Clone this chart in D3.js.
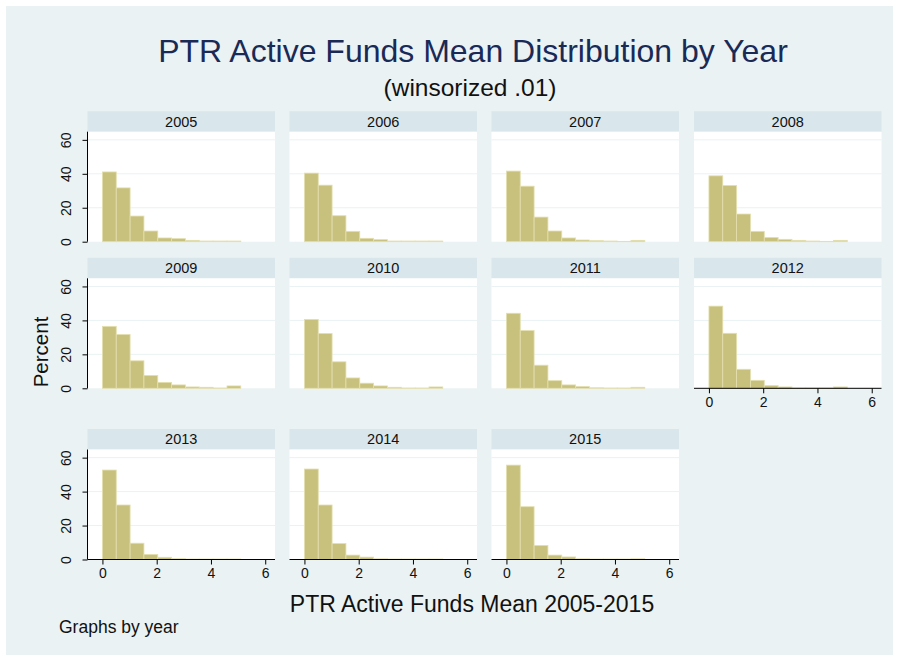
<!DOCTYPE html>
<html>
<head>
<meta charset="utf-8">
<script src="https://cdn.jsdelivr.net/npm/d3@7"></script>
<style>
  html, body { margin: 0; padding: 0; background: #ffffff; }
  svg { display: block; font-family: "Liberation Sans", Arial, sans-serif; }
</style>
</head>
<body>
<svg id="chart" width="899" height="660"></svg>
<script>
// ---------------- data ----------------
const years = ["2005","2006","2007","2008","2009","2010","2011","2012","2013","2014","2015"];
const binEdges = [0, 0.51, 1.02, 1.53, 2.04, 2.55, 3.06, 3.57, 4.08, 4.59, 5.1];
const pct2005 = [41.1, 31.7, 15.1, 6.3, 2.2, 1.8, 0.8, 0.4, 0.4, 0.4];
const pct2006 = [40.4, 33.3, 15.3, 6.1, 2.0, 1.2, 0.4, 0.4, 0.4, 0.4];
const pct2007 = [41.6, 32.7, 14.5, 6.3, 2.2, 1.0, 0.6, 0.4, 0.2, 0.8];
const pct2008 = [38.8, 33.1, 16.3, 6.1, 2.5, 1.4, 0.8, 0.4, 0.2, 0.8];
const pct2009 = [36.5, 31.7, 16.2, 7.6, 3.5, 2.0, 0.8, 0.6, 0.2, 1.4];
const pct2010 = [40.6, 32.3, 15.6, 6.1, 3.0, 1.4, 0.6, 0.2, 0.2, 0.8];
const pct2011 = [44.2, 34.0, 13.6, 4.5, 2.0, 1.0, 0.3, 0.2, 0.2, 0.6];
const pct2012 = [48.4, 32.4, 11.2, 4.7, 1.6, 0.8, 0.2, 0.2, 0.2, 0.8];
const pct2013 = [52.7, 32.1, 9.6, 3.0, 1.3, 0.5, 0.3, 0.3, 0.3, 0.3];
const pct2014 = [53.3, 32.1, 9.4, 2.6, 1.4, 0.4, 0.3, 0.3, 0.3, 0.3];
const pct2015 = [55.6, 31.1, 8.3, 2.6, 1.5, 0.4, 0.3, 0.3, 0.3, 0.4];
const xTicks = [0, 2, 4, 6];
const yTicks = [0, 20, 40, 60];
const titleText = "PTR Active Funds Mean Distribution by Year";
const subtitleText = "(winsorized .01)";
const xTitle = "PTR Active Funds Mean 2005-2015";
const yTitle = "Percent";
const noteText = "Graphs by year";

const seriesByYear = {
  "2005": pct2005, "2006": pct2006, "2007": pct2007, "2008": pct2008,
  "2009": pct2009, "2010": pct2010, "2011": pct2011, "2012": pct2012,
  "2013": pct2013, "2014": pct2014, "2015": pct2015
};

// ---------------- layout ----------------
const svg = d3.select("#chart");
const W = 899, H = 660;
const colLeft = [87.5, 289.5, 491.5, 694];
const rowTop = [131.7, 278.3, 449.5];
const pw = 187.5, ph = 110, stripH = 20.5;
const barFill = "#c8c17e", barStroke = "#e4dfae";

svg.append("rect").attr("x", 0).attr("y", 0).attr("width", W).attr("height", H).attr("fill", "#ffffff");
svg.append("rect").attr("x", 6).attr("y", 6).attr("width", W - 12).attr("height", H - 11).attr("fill", "#eaf2f3");

const x = d3.scaleLinear().domain([-0.55, 6.36]).range([0, pw]);
const y = d3.scaleLinear().domain([0, 64.8]).range([ph, 0]);

years.forEach((yr, i) => {
  const r = Math.floor(i / 4), c = i % 4;
  const g = svg.append("g").attr("transform", `translate(${colLeft[c]},${rowTop[r]})`);
  // strip
  g.append("rect").attr("x", 0).attr("y", -stripH).attr("width", pw).attr("height", stripH).attr("fill", "#d9e6eb");
  g.append("text").attr("x", pw / 2).attr("y", -stripH / 2).attr("dy", "0.36em")
    .attr("text-anchor", "middle").attr("font-size", 14.5).attr("fill", "#111").text(yr);
  // plot region
  g.append("rect").attr("x", 0).attr("y", 0).attr("width", pw).attr("height", ph).attr("fill", "#ffffff");
  // gridlines
  g.selectAll("line.grid").data(yTicks.filter(t => t > 0)).enter().append("line")
    .attr("x1", 0).attr("x2", pw).attr("y1", d => y(d)).attr("y2", d => y(d))
    .attr("stroke", "#eaf2f3").attr("stroke-width", 1);
  // bars
  const vals = seriesByYear[yr];
  const bins = vals.map((v, k) => ({ x0: binEdges[k], x1: binEdges[k + 1], v }));
  g.selectAll("rect.bar").data(bins).enter().append("rect")
    .attr("x", d => x(d.x0)).attr("width", d => x(d.x1) - x(d.x0))
    .attr("y", d => y(d.v)).attr("height", d => ph - y(d.v))
    .attr("fill", barFill).attr("stroke", barStroke).attr("stroke-width", 0.8);

  // y axis for first column
  if (c === 0) {
    const ya = g.append("g").call(d3.axisLeft(y).tickValues(yTicks).tickSize(5).tickFormat(d3.format("d")));
    ya.select(".domain").attr("d", `M0,0V${ph}`).attr("stroke", "#000").attr("stroke-width", 1);
    ya.selectAll(".tick line").attr("stroke", "#000");
    ya.selectAll(".tick text")
      .attr("font-size", 14).attr("fill", "#111").attr("font-family", "Liberation Sans, Arial, sans-serif")
      .attr("transform", "rotate(-90)")
      .attr("x", 0).attr("y", -17).attr("dy", "0").attr("text-anchor", "middle");
  }
  // x axis for bottom panels
  const isBottom = (r === 2) || (r === 1 && c === 3);
  if (isBottom) {
    const xa = g.append("g").attr("transform", `translate(0,${ph})`)
      .call(d3.axisBottom(x).tickValues(xTicks).tickSize(5).tickFormat(d3.format("d")));
    xa.select(".domain").attr("d", `M0,0H${pw}`).attr("stroke", "#000").attr("stroke-width", 1);
    xa.selectAll(".tick line").attr("stroke", "#000");
    xa.selectAll(".tick text")
      .attr("font-size", 14).attr("fill", "#111").attr("font-family", "Liberation Sans, Arial, sans-serif")
      .attr("y", 9).attr("dy", "0.71em");
  }
});

// titles
svg.append("text").attr("x", 473).attr("y", 62).attr("text-anchor", "middle")
  .attr("font-size", 32).attr("fill", "#1a2a56").text(titleText);
svg.append("text").attr("x", 470).attr("y", 96).attr("text-anchor", "middle")
  .attr("font-size", 24.5).attr("fill", "#111").text(subtitleText);
svg.append("text").attr("x", 472).attr("y", 612).attr("text-anchor", "middle")
  .attr("font-size", 23).attr("fill", "#111").text(xTitle);
svg.append("text").attr("transform", "translate(48,352) rotate(-90)").attr("text-anchor", "middle")
  .attr("font-size", 20.5).attr("fill", "#111").text(yTitle);
svg.append("text").attr("x", 59).attr("y", 633)
  .attr("font-size", 17.5).attr("fill", "#111").text(noteText);
</script>
</body>
</html>
